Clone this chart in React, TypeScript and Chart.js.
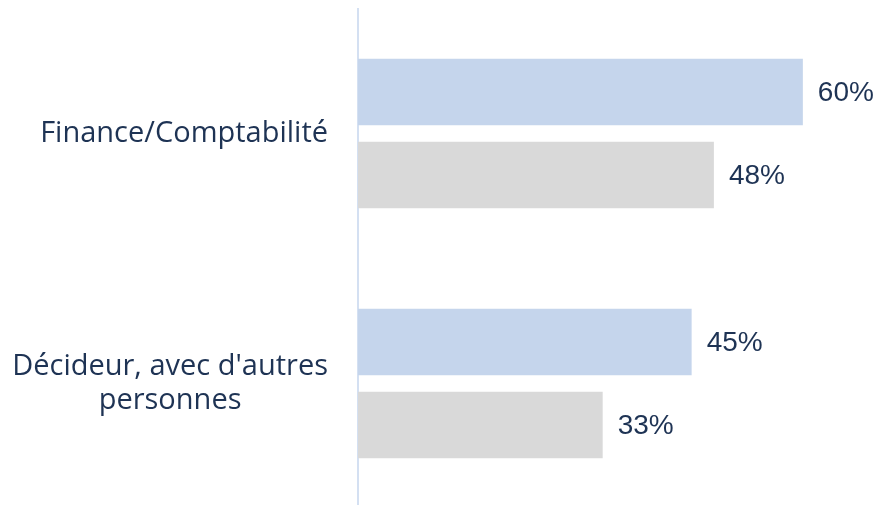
import React, { useEffect, useRef } from "react";
import { Chart, registerables } from "chart.js";

Chart.register(...registerables);

const categories: string[][] = [
  ["Finance/Comptabilité"],
  ["Décideur, avec d'autres", "personnes"],
];
const seriesA: number[] = [60, 45];
const seriesB: number[] = [48, 33];
const seriesNames: string[] = ["Série 1", "Série 2"];

const TEXT = "#1E3354";
const CAT_FONT = '29px "Open Sans", sans-serif';
const VAL_FONT = '28px "Liberation Sans", Arial, sans-serif';

const valueLabels = {
  id: "valueLabels",
  afterDatasetsDraw(chart: any) {
    const ctx = chart.ctx;
    ctx.save();
    ctx.font = VAL_FONT;
    ctx.fillStyle = TEXT;
    ctx.textAlign = "left";
    ctx.textBaseline = "middle";
    chart.data.datasets.forEach((ds: any, i: number) => {
      const meta = chart.getDatasetMeta(i);
      meta.data.forEach((el: any, j: number) => {
        ctx.fillText(ds.data[j] + "%", el.x + 15, el.y + 1);
      });
    });
    ctx.restore();
  },
};

// Category labels: each block right-aligned to the axis, lines centred within the block
const categoryLabels = {
  id: "categoryLabels",
  afterDraw(chart: any) {
    const ctx = chart.ctx;
    const yScale = chart.scales.y;
    const right = chart.chartArea.left - 30;
    const lineH = 34.5;
    ctx.save();
    ctx.font = CAT_FONT;
    ctx.fillStyle = TEXT;
    ctx.textAlign = "center";
    ctx.textBaseline = "middle";
    (chart.data.labels as string[][]).forEach((lines, i) => {
      const cy = yScale.getPixelForTick(i);
      const w = Math.max(...lines.map((l) => ctx.measureText(l).width));
      const cx = right - w / 2;
      lines.forEach((l, k) => {
        ctx.fillText(l, cx, cy + (k - (lines.length - 1) / 2) * lineH);
      });
    });
    ctx.restore();
  },
};

export default function App() {
  const ref = useRef<HTMLCanvasElement>(null);
  useEffect(() => {
    if (!ref.current) return;
    const chart = new Chart(ref.current, {
      type: "bar",
      data: {
        labels: categories,
        datasets: [
          {
            label: seriesNames[0],
            data: seriesA,
            backgroundColor: "#C5D5EC",
            categoryPercentage: 0.664,
            barPercentage: 0.8,
          },
          {
            label: seriesNames[1],
            data: seriesB,
            backgroundColor: "#D9D9D9",
            categoryPercentage: 0.664,
            barPercentage: 0.8,
          },
        ],
      },
      options: {
        indexAxis: "y",
        animation: false,
        responsive: false,
        maintainAspectRatio: false,
        layout: { padding: { top: 8.5, bottom: 3.5, right: 2, left: 0 } },
        plugins: {
          legend: { display: false },
          tooltip: { enabled: false },
        },
        scales: {
          x: {
            min: 0,
            max: 70,
            display: false,
            grid: { display: false },
          },
          y: {
            grid: { display: false, drawTicks: false },
            border: { display: true, color: "#D4E0F2", width: 2 },
            afterFit: (scale: any) => {
              scale.width = 358;
              scale.paddingTop = 0;
              scale.paddingBottom = 0;
            },
            ticks: { display: false },
          },
        },
      },
      plugins: [valueLabels, categoryLabels],
    });
    return () => chart.destroy();
  }, []);
  return (
    <div
      style={{
        position: "fixed",
        left: 0,
        top: 0,
        width: 879,
        height: 505,
        overflow: "hidden",
        background: "#fff",
      }}
    >
      <canvas ref={ref} width={879} height={512} style={{ display: "block" }} />
    </div>
  );
}
